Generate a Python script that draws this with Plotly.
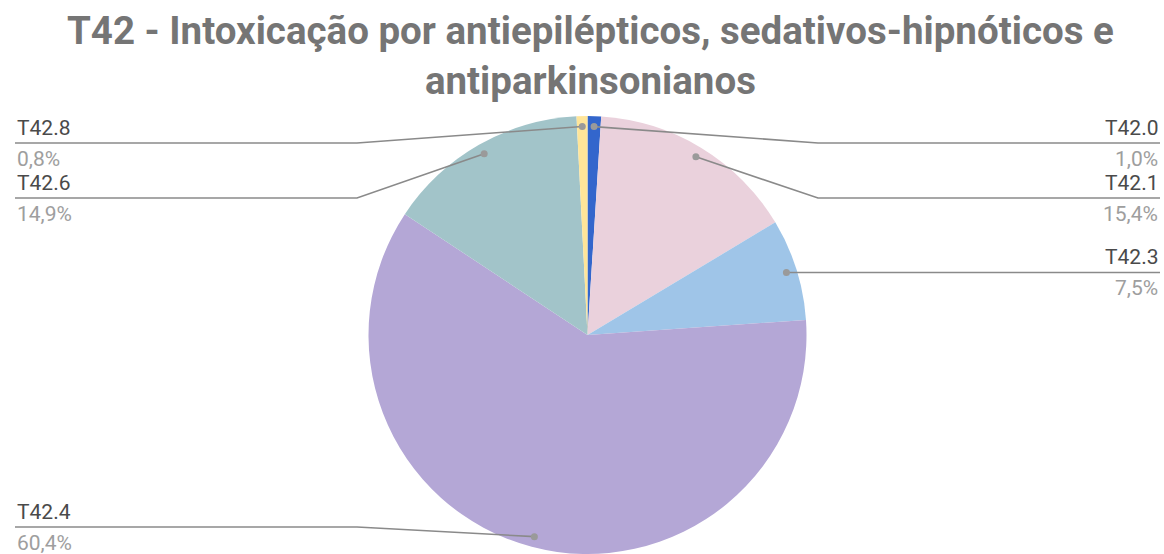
import math
import plotly.graph_objects as go

W, H = 1164, 554

# ---- data ----
labels = ["T42.0", "T42.1", "T42.3", "T42.4", "T42.6", "T42.8"]
values = [1.0, 15.4, 7.5, 60.4, 14.9, 0.8]
pct_text = ["1,0%", "15,4%", "7,5%", "60,4%", "14,9%", "0,8%"]
colors = ["#3366cc", "#ead1dc", "#9fc5e8", "#b4a7d6", "#a2c4c9", "#ffe599"]
title_lines = ["T42 - Intoxicação por antiepilépticos, sedativos-hipnóticos e", "antiparkinsonianos"]

# ---- layout constants (pixels) ----
cx, cy, R = 587.5, 335.0, 219.5
label_line_y = [143, 198, None, 527, 198, 143]   # None -> straight from dot
bend_left, bend_right = 357, 818
end_left, end_right = 15, 1160
dot_frac = 0.95
title_top = 6


def px(x):
    return x / W


def py(y):
    return 1 - y / H


fig = go.Figure()

fig.add_trace(go.Pie(
    labels=labels, values=values, sort=False, direction="clockwise", rotation=0,
    marker=dict(colors=colors, line=dict(width=0)),
    textinfo="none", hoverinfo="label+percent", showlegend=False,
    domain=dict(x=[px(cx - R), px(cx + R)], y=[py(cy + R - 0.5), py(cy - R + 0.5)]),
))

total = sum(values)
cum = 0.0
annotations = []
shapes = []
for i, (lab, v) in enumerate(zip(labels, values)):
    mid = (cum + v / 2) / total * 2 * math.pi
    cum += v
    dx = cx + dot_frac * R * math.sin(mid)
    dy = cy - dot_frac * R * math.cos(mid)
    left = math.sin(mid) < 0
    ly = label_line_y[i] if label_line_y[i] is not None else dy
    bx = bend_left if left else bend_right
    ex = end_left if left else end_right
    if label_line_y[i] is None:
        pts = [(dx, dy), (ex, ly)]
    else:
        pts = [(dx, dy), (bx, ly), (ex, ly)]
    path = "M " + " L ".join(f"{px(x):.5f},{py(y):.5f}" for x, y in pts)
    shapes.append(dict(type="path", path=path, xref="paper", yref="paper", layer="above",
                       line=dict(color="#8a8a8a", width=1.6)))
    rdot = 3.5
    shapes.append(dict(type="circle", xref="paper", yref="paper", layer="above",
                       x0=px(dx - rdot), x1=px(dx + rdot), y0=py(dy + rdot), y1=py(dy - rdot),
                       fillcolor="#9a9a9a", line=dict(width=0)))
    anchor = "left" if left else "right"
    annotations.append(dict(x=px(ex), y=py(ly - 15), xref="paper", yref="paper", text=lab,
                            showarrow=False, xanchor=anchor, yanchor="middle",
                            font=dict(family="Roboto", size=21, color="#4a4a4a")))
    annotations.append(dict(x=px(ex), y=py(ly + 16), xref="paper", yref="paper", text=pct_text[i],
                            showarrow=False, xanchor=anchor, yanchor="middle",
                            font=dict(family="Roboto", size=21, color="#9e9e9e")))

annotations.append(dict(x=px(590), y=py(title_top), xref="paper", yref="paper",
                        text="<br>".join("<b>" + t + "</b>" for t in title_lines),
                        showarrow=False, xanchor="center", yanchor="top",
                        font=dict(family="Roboto", size=38.5, color="#757575")))

fig.update_layout(
    width=W, height=H, margin=dict(l=0, r=0, t=0, b=0),
    paper_bgcolor="white", plot_bgcolor="rgba(0,0,0,0)",
    annotations=annotations, shapes=shapes,
)

fig.write_html("out.html")
